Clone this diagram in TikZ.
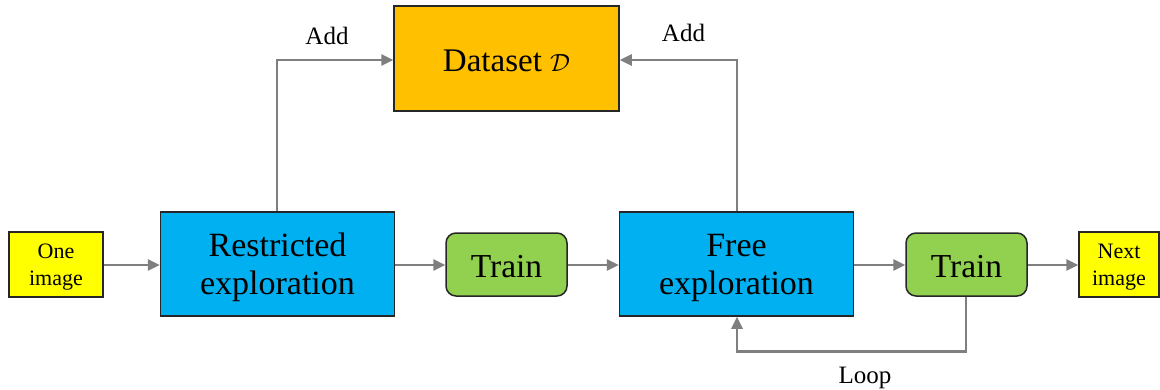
\documentclass[tikz,border=0pt]{standalone}
\usepackage{fontspec}
\setmainfont{Liberation Serif}
\usetikzlibrary{arrows.meta}
\definecolor{yel}{HTML}{FFFF00}
\definecolor{blu}{HTML}{00B0F0}
\definecolor{grn}{HTML}{92D050}
\definecolor{org}{HTML}{FFC000}
\definecolor{arr}{HTML}{7F7F7F}
\definecolor{bord}{HTML}{262626}
\tikzset{
  box/.style={draw=bord, line width=1.5pt, inner sep=0pt, align=center, text=black},
  imgbox/.style={box, fill=yel, minimum width=94pt, minimum height=65pt, font=\fontsize{22}{27}\selectfont},
  explbox/.style={box, fill=blu, minimum width=234pt, minimum height=104pt, font=\fontsize{34}{38}\selectfont},
  trainbox/.style={box, fill=grn, rounded corners=10pt, minimum width=121pt, minimum height=63pt, font=\fontsize{33.5}{38}\selectfont, text height=25.6pt, text depth=0pt},
  databox/.style={box, fill=org, minimum width=225pt, minimum height=105pt, font=\fontsize{33}{38}\selectfont, text height=25pt, text depth=0pt},
  conn/.style={draw=arr, line width=2.5pt, -{Triangle[length=12pt,width=11pt]}},
  lbl/.style={font=\fontsize{25}{30}\selectfont, inner sep=0pt, anchor=base}
}
\newcommand{\tstrut}[1]{\rule{0pt}{#1}}
\begin{document}
\begin{tikzpicture}[x=1pt,y=-1pt]
\useasboundingbox (0,0) rectangle (1160,389);
\node[imgbox] (one) at (56,264.5) {\tstrut{19pt}One\\image};
\node[explbox] (restr) at (277.5,264) {\tstrut{31pt}Restricted\\exploration};
\node[trainbox] (t1) at (506.5,264.5) {Train};
\node[explbox] (free) at (736.5,264) {\tstrut{31pt}Free\\exploration};
\node[trainbox] (t2) at (966.5,264.5) {Train};
\node[imgbox, minimum width=80pt] (next) at (1119,264.5) {\tstrut{19pt}Next\\image};
\node[databox] (data) at (506.5,58.5) {Dataset $\mathcal{D}$};
\coordinate (c1) at (277,60);
\coordinate (c2) at (737,60);
\coordinate (c3) at (966,351.5);
\coordinate (c4) at (737,351.5);
\draw[conn] (one.east |- 0,265) -- (restr.west |- 0,265);
\draw[conn] (restr.east |- 0,265) -- (t1.west |- 0,265);
\draw[conn] (t1.east |- 0,265) -- (free.west |- 0,265);
\draw[conn] (free.east |- 0,265) -- (t2.west |- 0,265);
\draw[conn] (t2.east |- 0,265) -- (next.west |- 0,265);
\draw[conn] (restr.north -| c1) -- (c1) -- (data.west |- c1);
\draw[conn] (free.north -| c2) -- (c2) -- (data.east |- c2);
\draw[conn] (t2.south -| c3) -- (c3) -- (c4) -- (free.south -| c4);
\node[lbl] (add1) at (327,44.3) {Add};
\node[lbl] (add2) at (683.5,41.7) {Add};
\node[lbl] (loop) at (865,383.3) {Loop};
\end{tikzpicture}
\end{document}
